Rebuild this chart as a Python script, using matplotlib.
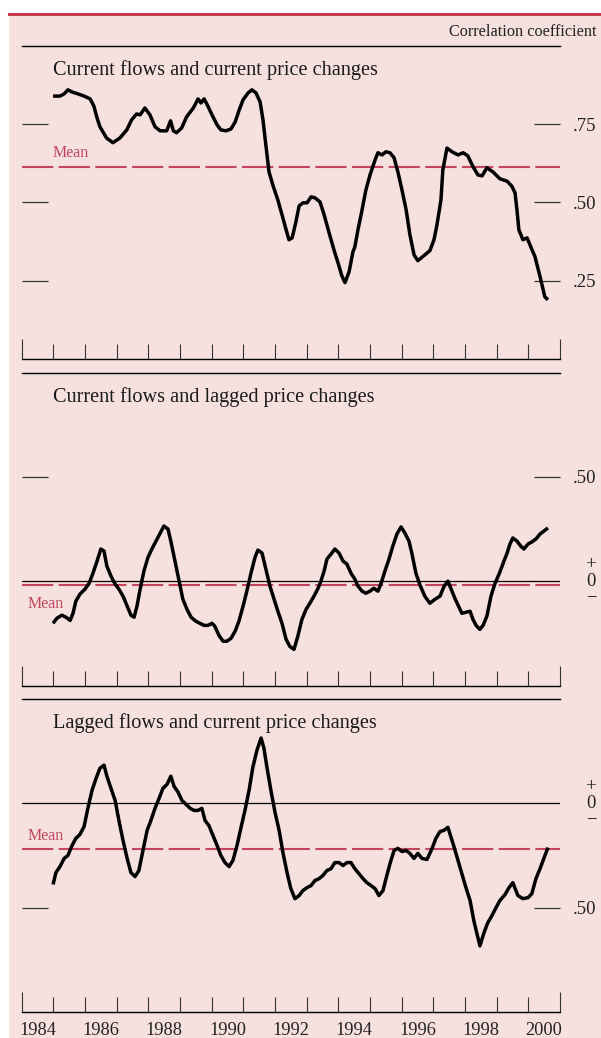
import matplotlib
matplotlib.use("Agg")
import matplotlib.pyplot as plt
import numpy as np
from matplotlib.patches import Rectangle
from matplotlib.lines import Line2D
from matplotlib.transforms import blended_transform_factory

plt.rcParams['font.family'] = ['Liberation Serif', 'DejaVu Serif']

# --- data (years after 1984, correlation coefficients) ---
t1 = [0.99, 1.21, 1.34, 1.46, 1.59, 1.78, 1.97, 2.16, 2.28, 2.38, 2.47, 2.68, 2.88, 3.10, 3.32,
      3.47, 3.63, 3.74, 3.89, 4.05, 4.21, 4.37, 4.58, 4.70, 4.79, 4.89, 5.05, 5.21, 5.42, 5.57,
      5.66, 5.76, 5.88, 6.01, 6.17, 6.29, 6.45, 6.61, 6.74, 6.86, 6.99, 7.15, 7.27, 7.40, 7.53,
      7.62, 7.71, 7.81, 7.94, 8.09, 8.22, 8.35, 8.44, 8.54, 8.66, 8.76, 8.88, 9.01, 9.14, 9.26,
      9.42, 9.55, 9.70, 9.86, 9.99, 10.11, 10.21, 10.34, 10.46, 10.52, 10.62, 10.75, 10.87, 11.00,
      11.16, 11.25, 11.38, 11.50, 11.63, 11.76, 11.88, 12.01, 12.14, 12.26, 12.39, 12.51, 12.70,
      12.89, 13.02, 13.11, 13.24, 13.30, 13.43, 13.59, 13.78, 13.94, 14.09, 14.25, 14.41, 14.54,
      14.69, 14.88, 15.10, 15.33, 15.48, 15.58, 15.64, 15.70, 15.83, 15.96, 16.05, 16.21, 16.37,
      16.52, 16.62]
v1 = [0.840, 0.840, 0.847, 0.860, 0.853, 0.847, 0.840, 0.831, 0.808, 0.770, 0.742, 0.706, 0.691,
      0.706, 0.732, 0.764, 0.783, 0.780, 0.802, 0.780, 0.742, 0.729, 0.729, 0.761, 0.729, 0.723,
      0.738, 0.774, 0.802, 0.831, 0.818, 0.831, 0.808, 0.780, 0.748, 0.732, 0.729, 0.735, 0.757,
      0.793, 0.828, 0.850, 0.860, 0.850, 0.821, 0.764, 0.684, 0.598, 0.553, 0.508, 0.461, 0.413,
      0.381, 0.387, 0.438, 0.489, 0.499, 0.499, 0.518, 0.515, 0.502, 0.461, 0.406, 0.349, 0.307,
      0.266, 0.244, 0.279, 0.342, 0.358, 0.413, 0.477, 0.540, 0.588, 0.636, 0.659, 0.652, 0.662,
      0.659, 0.643, 0.598, 0.540, 0.477, 0.397, 0.333, 0.314, 0.330, 0.346, 0.381, 0.426, 0.508,
      0.604, 0.674, 0.662, 0.652, 0.659, 0.649, 0.615, 0.588, 0.585, 0.611, 0.598, 0.576, 0.568,
      0.552, 0.531, 0.477, 0.413, 0.381, 0.387, 0.365, 0.327, 0.263, 0.199, 0.189]

t2 = [0.99, 1.11, 1.27, 1.40, 1.53, 1.62, 1.71, 1.84, 2.00, 2.13, 2.25, 2.38, 2.50, 2.60, 2.69,
      2.82, 2.95, 3.07, 3.20, 3.33, 3.45, 3.55, 3.64, 3.74, 3.86, 3.99, 4.11, 4.24, 4.37, 4.49,
      4.62, 4.71, 4.84, 4.97, 5.09, 5.22, 5.35, 5.50, 5.63, 5.76, 5.88, 6.01, 6.10, 6.23, 6.36,
      6.48, 6.61, 6.74, 6.86, 6.99, 7.11, 7.24, 7.37, 7.46, 7.59, 7.71, 7.84, 7.97, 8.09, 8.22,
      8.35, 8.47, 8.60, 8.72, 8.85, 8.98, 9.10, 9.23, 9.36, 9.45, 9.55, 9.64, 9.77, 9.89, 10.02,
      10.15, 10.27, 10.40, 10.52, 10.62, 10.75, 10.87, 11.00, 11.12, 11.25, 11.35, 11.47, 11.60,
      11.72, 11.85, 11.98, 12.10, 12.23, 12.32, 12.45, 12.58, 12.73, 12.89, 13.05, 13.21, 13.34,
      13.46, 13.59, 13.68, 13.81, 13.90, 14.03, 14.16, 14.25, 14.35, 14.47, 14.57, 14.69, 14.82,
      14.94, 15.10, 15.23, 15.33, 15.42, 15.51, 15.64, 15.76, 15.86, 15.99, 16.11, 16.24, 16.37,
      16.49, 16.62]
v2 = [-0.202, -0.178, -0.163, -0.173, -0.188, -0.154, -0.096, -0.062, -0.038, -0.010, 0.038,
      0.096, 0.154, 0.144, 0.072, 0.024, -0.014, -0.038, -0.072, -0.120, -0.163, -0.173, -0.120,
      -0.038, 0.048, 0.115, 0.154, 0.192, 0.231, 0.264, 0.250, 0.192, 0.096, 0.000, -0.087,
      -0.135, -0.173, -0.192, -0.202, -0.212, -0.212, -0.202, -0.216, -0.260, -0.288, -0.288,
      -0.274, -0.240, -0.192, -0.120, -0.048, 0.038, 0.115, 0.149, 0.135, 0.058, -0.024, -0.087,
      -0.144, -0.202, -0.279, -0.313, -0.327, -0.264, -0.183, -0.135, -0.106, -0.072, -0.034,
      0.000, 0.048, 0.106, 0.130, 0.154, 0.135, 0.096, 0.082, 0.038, 0.010, -0.024, -0.048,
      -0.058, -0.048, -0.034, -0.048, -0.010, 0.048, 0.106, 0.168, 0.226, 0.260, 0.231, 0.192,
      0.135, 0.038, -0.019, -0.072, -0.106, -0.087, -0.072, -0.024, 0.000, -0.048, -0.082,
      -0.125, -0.154, -0.149, -0.144, -0.183, -0.212, -0.231, -0.212, -0.168, -0.072, -0.014,
      0.043, 0.096, 0.135, 0.178, 0.207, 0.192, 0.168, 0.154, 0.178, 0.188, 0.202, 0.226, 0.240,
      0.255]

t3 = [0.99, 1.08, 1.21, 1.34, 1.46, 1.59, 1.71, 1.84, 1.97, 2.09, 2.22, 2.35, 2.47, 2.60, 2.69,
      2.82, 2.95, 3.07, 3.20, 3.33, 3.45, 3.58, 3.70, 3.83, 3.96, 4.08, 4.21, 4.34, 4.46, 4.59,
      4.71, 4.81, 4.94, 5.06, 5.19, 5.32, 5.44, 5.57, 5.69, 5.79, 5.91, 6.04, 6.17, 6.29, 6.42,
      6.55, 6.67, 6.80, 6.92, 7.05, 7.18, 7.30, 7.43, 7.56, 7.65, 7.75, 7.87, 8.00, 8.13, 8.25,
      8.38, 8.50, 8.63, 8.76, 8.88, 9.01, 9.14, 9.26, 9.39, 9.51, 9.64, 9.77, 9.89, 10.02, 10.15,
      10.27, 10.40, 10.52, 10.65, 10.78, 10.90, 11.03, 11.16, 11.28, 11.41, 11.53, 11.66, 11.76,
      11.88, 12.01, 12.14, 12.26, 12.39, 12.51, 12.64, 12.80, 12.96, 13.08, 13.21, 13.33, 13.46,
      13.62, 13.78, 13.90, 14.03, 14.16, 14.28, 14.47, 14.60, 14.72, 14.85, 14.98, 15.10, 15.26,
      15.39, 15.51, 15.67, 15.83, 15.99, 16.11, 16.24, 16.37, 16.49, 16.62]
v3 = [-0.389, -0.332, -0.303, -0.264, -0.250, -0.202, -0.168, -0.149, -0.111, -0.024, 0.062,
      0.120, 0.168, 0.183, 0.130, 0.072, 0.014, -0.082, -0.178, -0.264, -0.332, -0.351, -0.322,
      -0.226, -0.130, -0.082, -0.024, 0.024, 0.072, 0.091, 0.130, 0.082, 0.053, 0.014, -0.005,
      -0.024, -0.034, -0.034, -0.024, -0.082, -0.106, -0.154, -0.202, -0.250, -0.284, -0.303,
      -0.274, -0.202, -0.120, -0.034, 0.062, 0.173, 0.255, 0.313, 0.264, 0.168, 0.062, -0.043,
      -0.130, -0.236, -0.332, -0.409, -0.457, -0.442, -0.418, -0.404, -0.394, -0.370, -0.361,
      -0.346, -0.322, -0.313, -0.284, -0.284, -0.298, -0.284, -0.284, -0.313, -0.337, -0.361,
      -0.380, -0.394, -0.409, -0.442, -0.418, -0.346, -0.274, -0.226, -0.216, -0.231, -0.226,
      -0.240, -0.264, -0.240, -0.264, -0.269, -0.216, -0.168, -0.135, -0.130, -0.115, -0.192,
      -0.274, -0.337, -0.404, -0.466, -0.563, -0.683, -0.620, -0.572, -0.538, -0.500, -0.466,
      -0.438, -0.404, -0.380, -0.442, -0.457, -0.452, -0.433, -0.361, -0.313, -0.264, -0.212]

titles = ["Current flows and current price changes",
          "Current flows and lagged price changes",
          "Lagged flows and current price changes"]
means = [0.615, -0.02, -0.22]
ylims = [(0.0, 1.0), (-0.5, 1.0), (-1.0, 0.5)]
yticks = [[0.25, 0.50, 0.75], [0.50], [-0.50]]
yticklabels = [[".25", ".50", ".75"], [".50"], [".50"]]
year_labels = list(range(1984, 2001, 2))

pink = "#f6e1df"
red = "#c4455c"

W, H = 601, 1038
fig = plt.figure(figsize=(W / 100, H / 100), dpi=100)
fig.patch.set_facecolor("white")

# pink panel and red rule at top
fig.patches.append(Rectangle((9 / W, 0), 1 - 9 / W, 1 - 13.5 / H, transform=fig.transFigure,
                             facecolor=pink, edgecolor="none", zorder=-10))
fig.lines.append(Line2D([9 / W, 1], [1 - 13.5 / H] * 2, transform=fig.transFigure,
                        color="#c23a50", lw=2.2, zorder=-5))

fig.text(597 / W, 1 - 36 / H, "Correlation coefficient", ha="right", va="baseline", fontsize=11.7,
         color="#222222")

left_px, right_px = 21.7, 560.0
tops = [46.0, 372.5, 699.0]
panel_h = 313.0

series = [(t1, v1), (t2, v2), (t3, v3)]
for i in range(3):
    top = tops[i]
    ax = fig.add_axes([left_px / W, 1 - (top + panel_h) / H, (right_px - left_px) / W, panel_h / H])
    ax.set_facecolor("none")
    ax.set_xlim(1984, 2001)
    ax.set_ylim(*ylims[i])
    for s in ["left", "right"]:
        ax.spines[s].set_visible(False)
    ax.spines["top"].set_linewidth(1.0)
    ax.spines["bottom"].set_linewidth(1.0)

    ax.set_xticks(range(1985, 2001))
    ax.set_xticks([1984, 2001], minor=True)
    ax.tick_params(axis="x", which="major", direction="in", length=11, width=0.8, color="#333333",
                   labelbottom=False, top=False)
    ax.tick_params(axis="x", which="minor", direction="in", length=14.5, width=0.8,
                   color="#333333", labelbottom=False, top=False)

    ax.set_yticks(yticks[i])
    ax.set_yticklabels(yticklabels[i])
    ax.tick_params(axis="y", direction="in", length=18.7, width=0.9, color="#333333",
                   left=True, right=True, labelleft=False, labelright=True, pad=9.4,
                   labelsize=13.5, labelcolor="#222222")

    if i > 0:
        ax.axhline(0, color="black", lw=0.9, zorder=2)
        bt = blended_transform_factory(ax.transAxes, ax.transData)
        for dy, s in [(11.7, "+"), (0, "0"), (-12.2, "\u2212")]:
            ax.annotate(s, xy=(1, 0), xycoords=bt, xytext=(22.3, dy), textcoords="offset points",
                        ha="center", va="center", fontsize=13.5, color="#222222")

    ax.axhline(means[i], color=red, lw=1.5, dashes=(15, 2.6), zorder=2)

    t, v = series[i]
    ax.plot(1984 + np.array(t), v, color="black", lw=2.5, solid_joinstyle="round",
            solid_capstyle="butt", zorder=3)

    ax.annotate(titles[i], xy=(0, 1), xycoords="axes fraction", xytext=(22.5, -21),
                textcoords="offset points", ha="left", va="baseline", fontsize=14.6,
                color="#1a1a1a")

    bt = blended_transform_factory(ax.transAxes, ax.transData)
    if i == 0:
        ax.annotate("Mean", xy=(0, means[i]), xycoords=bt, xytext=(22.5, 7),
                    textcoords="offset points", ha="left", va="baseline", fontsize=11.5, color=red)
    elif i == 1:
        ax.annotate("Mean", xy=(0, means[i]), xycoords=bt, xytext=(4.5, -16),
                    textcoords="offset points", ha="left", va="baseline", fontsize=11.5, color=red)
    else:
        ax.annotate("Mean", xy=(0, means[i]), xycoords=bt, xytext=(4.5, 7),
                    textcoords="offset points", ha="left", va="baseline", fontsize=11.5, color=red)

    if i == 2:
        for yr in year_labels:
            ax.annotate(str(yr), xy=(yr + 0.5, 0), xycoords=("data", "axes fraction"),
                        xytext=(0, -16.5), textcoords="offset points", ha="center",
                        va="baseline", fontsize=13.2, color="#222222")

fig.savefig("out.png", dpi=100, facecolor=fig.get_facecolor())
